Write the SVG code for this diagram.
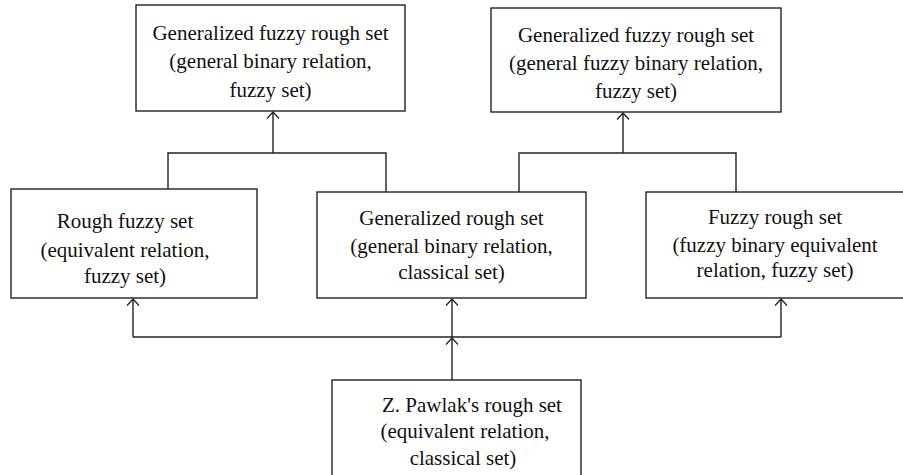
<svg xmlns="http://www.w3.org/2000/svg" width="903" height="475" viewBox="0 0 903 475">
<defs>
<marker id="arr" markerUnits="userSpaceOnUse" markerWidth="16" markerHeight="16" viewBox="-8 -8 16 16" refX="0" refY="0" orient="auto" overflow="visible">
<path d="M-6.5,-6 L0,0 L-6.5,6" fill="none" stroke="#222" stroke-width="1.3"/>
</marker>
<style>
.box{fill:#fff;stroke:#222;stroke-width:1.4}
.t{font-family:"Liberation Serif","Times New Roman",serif;font-size:21px;fill:#111;text-anchor:middle}
.c{fill:none;stroke:#222;stroke-width:1.4}
.a{fill:none;stroke:#222;stroke-width:1.4;marker-end:url(#arr)}
</style>
</defs>
<rect width="903" height="475" fill="#fff"/>
<g id="connectors">
<path class="c" d="M168,189 V153 H386 V192"/>
<path class="a" d="M273,153 V112"/>
<path class="c" d="M519,192 V153 H736 V192"/>
<path class="a" d="M623,153 V113"/>
<path class="c" d="M133,337 H781"/>
<path class="a" d="M133,337 V299"/>
<path class="a" d="M781,337 V299"/>
<path class="a" d="M452,380 V338"/>
<path class="a" d="M452,337 V299"/>
</g>
<g id="n1">
<rect class="box" x="136" y="5" width="269" height="106"/>
<text class="t" x="270.5" y="40">Generalized fuzzy rough set</text>
<text class="t" x="270.5" y="68">(general binary relation,</text>
<text class="t" x="270.5" y="97">fuzzy set)</text>
</g>
<g id="n2">
<rect class="box" x="491" y="8" width="290" height="104"/>
<text class="t" x="636" y="42">Generalized fuzzy rough set</text>
<text class="t" x="636" y="70">(general fuzzy binary relation,</text>
<text class="t" x="636" y="98">fuzzy set)</text>
</g>
<g id="n3">
<rect class="box" x="11" y="189" width="246" height="109"/>
<text class="t" x="125" y="228">Rough fuzzy set</text>
<text class="t" x="125" y="257">(equivalent relation,</text>
<text class="t" x="125" y="283">fuzzy set)</text>
</g>
<g id="n4">
<rect class="box" x="317" y="192" width="269" height="106"/>
<text class="t" x="451.5" y="225">Generalized rough set</text>
<text class="t" x="451.5" y="253">(general binary relation,</text>
<text class="t" x="451.5" y="279">classical set)</text>
</g>
<g id="n5">
<rect class="box" x="646" y="192" width="262" height="106"/>
<text class="t" x="775" y="224">Fuzzy rough set</text>
<text class="t" x="775" y="252">(fuzzy binary equivalent</text>
<text class="t" x="775" y="277">relation, fuzzy set)</text>
</g>
<g id="n6">
<rect class="box" x="332" y="380" width="249" height="110"/>
<text class="t" x="472" y="412">Z. Pawlak's rough set</text>
<text class="t" x="465" y="438">(equivalent relation,</text>
<text class="t" x="463" y="465">classical set)</text>
</g>
</svg>
